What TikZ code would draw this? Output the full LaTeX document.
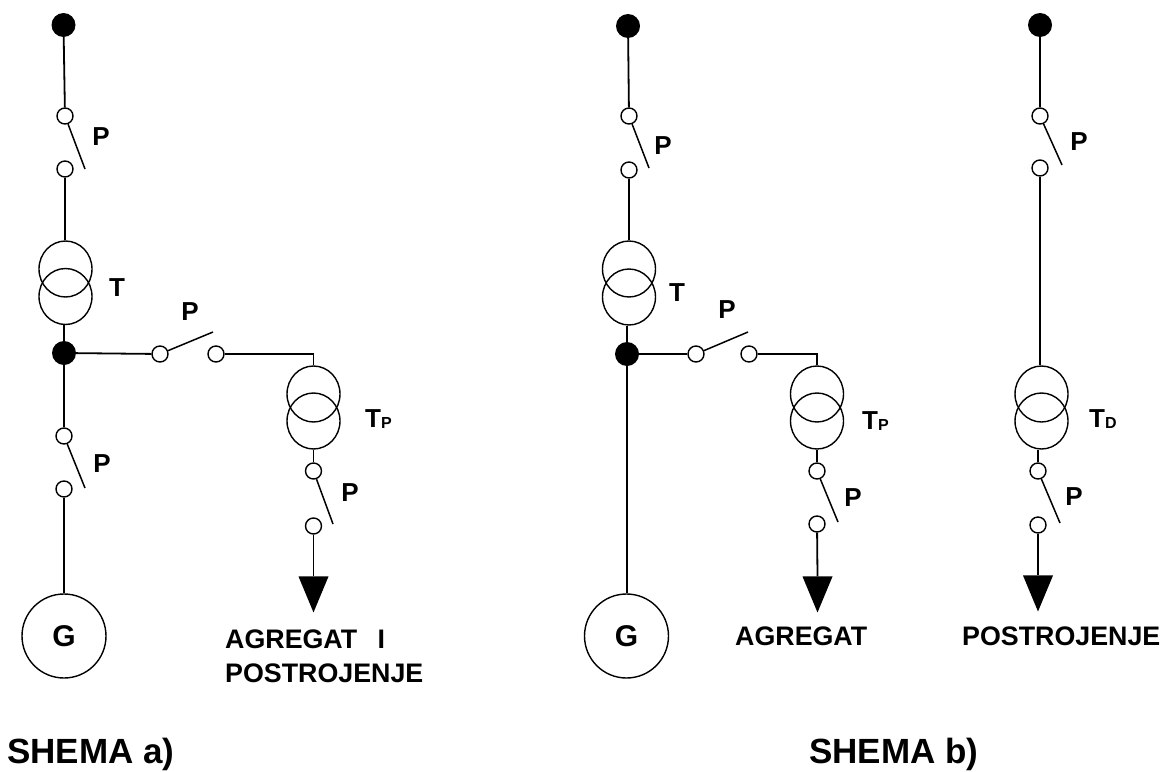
\documentclass[tikz,border=0pt]{standalone}
\usepackage{fontspec}
\setmainfont{Liberation Sans}
\usetikzlibrary{shapes.geometric}
\tikzset{
  x=1pt, y=-1pt,
  wire/.style={line width=1.8pt},
  blade/.style={line width=1.5pt},
  bus/.style={circle, fill=black, inner sep=0pt, minimum size=24pt},
  contact/.style={circle, draw, fill=white, line width=1.4pt, inner sep=0pt, minimum size=16pt},
  winding/.style={ellipse, draw, line width=1.4pt, inner sep=0pt, minimum width=53pt, minimum height=56pt},
  generator/.style={circle, draw, line width=1.4pt, inner sep=0pt, minimum size=84pt, font=\fontsize{30}{32}\bfseries\selectfont},
  load/.style={isosceles triangle, isosceles triangle apex angle=45, shape border rotate=-90, fill=black, inner sep=0pt, minimum height=36pt, minimum width=30pt, isosceles triangle stretches},
  lbl/.style={inner sep=0pt, font=\fontsize{26}{26}\bfseries\selectfont},
  txt/.style={inner sep=0pt, align=left, font=\fontsize{26.8}{33.5}\bfseries\selectfont},
  title/.style={inner sep=0pt, font=\fontsize{35}{35}\bfseries\selectfont}
}
\newcommand{\subidx}[1]{\raisebox{-1pt}{\fontsize{16}{16}\bfseries\selectfont #1}}
\begin{document}
\begin{tikzpicture}
\useasboundingbox (0,0) rectangle (1164,771);
% shema a)
\node[bus] (dotA) at (63.5,25) {};
\node[contact] (contA1) at (65,116) {};
\node[contact] (contA2) at (65,169) {};
\node[winding] (upA) at (65.5,269) {};
\node[winding] (lowA) at (65.5,296.5) {};
\node[bus] (juncA) at (64,353) {};
\node[contact] (contA3) at (160,354) {};
\node[contact] (contA4) at (216,354) {};
\node[contact] (contA5) at (64,436) {};
\node[contact] (contA6) at (64,489) {};
\node[generator] (genA) at (64,636) {G};
\node[winding] (upAp) at (313.5,394) {};
\node[winding] (lowAp) at (313.5,421) {};
\node[contact] (contA7) at (313.5,471) {};
\node[contact] (contA8) at (313.5,526) {};
\node[load, anchor=apex] (loadA) at (313.5,613) {};
\coordinate (bladeA1) at (85,169);
\coordinate (bladeA2) at (213,332);
\coordinate (bladeA3) at (85,488);
\coordinate (bladeA4) at (333,524);
\coordinate (cornerA) at (313.5,354);
\draw[wire] (dotA) -- (contA1);
\draw[wire] (contA2) -- (contA2 |- upA.north);
\draw[wire] (lowA.south -| juncA) -- (juncA);
\draw[wire] (juncA) -- (contA3);
\draw[wire] (contA4) -- (cornerA) -- (upAp.north);
\draw[wire] (juncA) -- (contA5);
\draw[wire] (contA6) -- (genA);
\draw[wire] (lowAp) -- (contA7);
\draw[wire] (contA8) -- (loadA.north);
\draw[blade] (contA1) -- (bladeA1);
\draw[blade] (contA3) -- (bladeA2);
\draw[blade] (contA5) -- (bladeA3);
\draw[blade] (contA7) -- (bladeA4);
\node[lbl] (pA1) at (101,137) {P};
\node[lbl] (tA) at (117,288) {T};
\node[lbl] (pA2) at (190,312) {P};
\node[lbl] (pA3) at (102,464) {P};
\node[lbl, anchor=west] (tAp) at (365,419) {T\subidx{P}};
\node[lbl] (pA4) at (350,493) {P};
\node[txt, anchor=north west] (textA) at (225,630) {AGREGAT\hspace{13pt} I\\POSTROJENJE};
\node[title, anchor=west] (titleA) at (7,754) {SHEMA a)};
% shema b)
\node[bus] (dotB) at (628,26) {};
\node[contact] (contB1) at (629,116) {};
\node[contact] (contB2) at (629,170) {};
\node[winding] (upB) at (629,269) {};
\node[winding] (lowB) at (629,297) {};
\node[bus] (juncB) at (627,354) {};
\node[contact] (contB3) at (696,354) {};
\node[contact] (contB4) at (749,354) {};
\node[generator] (genB) at (626.5,636) {G};
\node[winding] (upBp) at (817,394) {};
\node[winding] (lowBp) at (817,421) {};
\node[contact] (contB5) at (817,471) {};
\node[contact] (contB6) at (817,524) {};
\node[load, anchor=apex] (loadB) at (817.5,613) {};
\coordinate (bladeB1) at (649,168);
\coordinate (bladeB2) at (748,332);
\coordinate (bladeB3) at (838,522);
\coordinate (cornerB) at (817,354);
\draw[wire] (dotB) -- (contB1);
\draw[wire] (contB2) -- (contB2 |- upB.north);
\draw[wire] (lowB.south -| juncB) -- (juncB);
\draw[wire] (juncB) -- (contB3);
\draw[wire] (contB4) -- (cornerB) -- (upBp.north);
\draw[wire] (juncB) -- (genB.north -| juncB);
\draw[wire] (lowBp) -- (contB5);
\draw[wire] (contB6) -- (loadB.north);
\draw[blade] (contB1) -- (bladeB1);
\draw[blade] (contB3) -- (bladeB2);
\draw[blade] (contB5) -- (bladeB3);
\node[lbl] (pB1) at (663,146) {P};
\node[lbl] (tB) at (677,293) {T};
\node[lbl] (pB2) at (727,310) {P};
\node[lbl, anchor=west] (tBp) at (862,421) {T\subidx{P}};
\node[lbl] (pB3) at (853,498) {P};
\node[txt, anchor=north west] (textB) at (735,627) {AGREGAT};
\node[title, anchor=west] (titleB) at (809,754) {SHEMA b)};
% desna grana
\node[bus] (dotC) at (1040,25) {};
\node[contact] (contC1) at (1040,116) {};
\node[contact] (contC2) at (1040,168) {};
\node[winding] (upC) at (1041.5,394) {};
\node[winding] (lowC) at (1041.5,421) {};
\node[contact] (contC3) at (1038,471) {};
\node[contact] (contC4) at (1038,525) {};
\node[load, anchor=apex] (loadC) at (1038,612) {};
\coordinate (bladeC1) at (1062,165);
\coordinate (bladeC2) at (1060,523);
\draw[wire] (dotC) -- (contC1);
\draw[wire] (contC2) -- (contC2 |- upC.north);
\draw[wire] (lowC.south -| contC3) -- (contC3);
\draw[wire] (contC4) -- (loadC.north);
\draw[blade] (contC1) -- (bladeC1);
\draw[blade] (contC3) -- (bladeC2);
\node[lbl] (pC1) at (1079,142) {P};
\node[lbl, anchor=west] (tC) at (1089,419) {T\subidx{D}};
\node[lbl] (pC2) at (1074,497) {P};
\node[txt, anchor=north west] (textC) at (962,627) {POSTROJENJE};
\end{tikzpicture}
\end{document}
